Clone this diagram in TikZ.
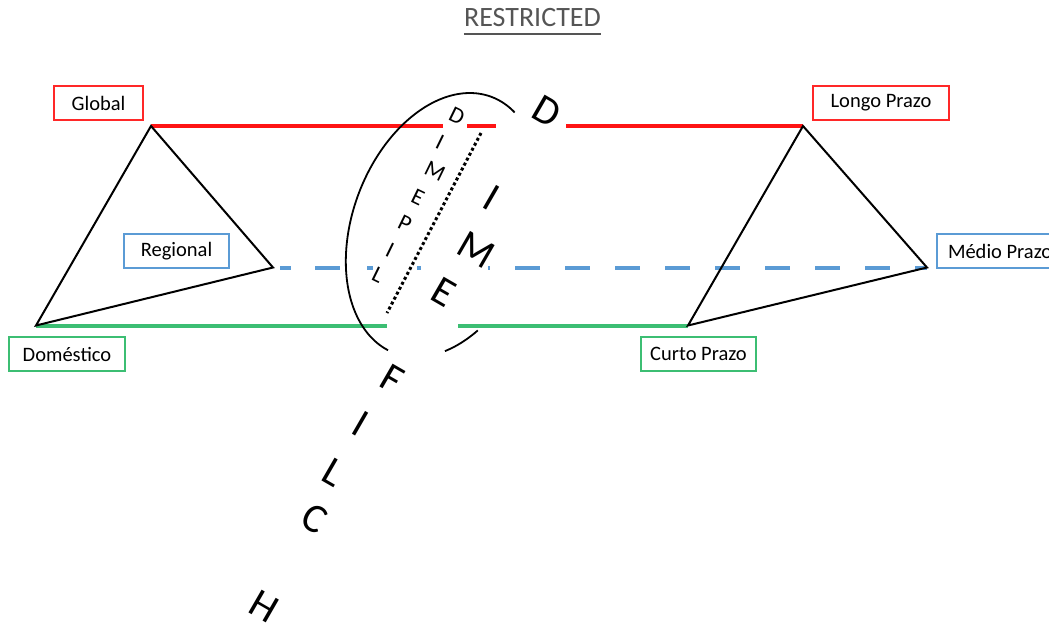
\documentclass[tikz,border=0pt]{standalone}
\usepackage{fontspec}
\setmainfont{Carlito}
\definecolor{myred}{RGB}{255,20,20}
\definecolor{boxred}{RGB}{255,40,40}
\definecolor{myblue}{RGB}{91,155,213}
\definecolor{mygreen}{RGB}{60,190,115}
\definecolor{titlegray}{RGB}{85,85,85}
\begin{document}
\begin{tikzpicture}[x=1pt,y=-1pt,
  lbl/.style={draw, line width=2pt, font=\fontsize{20.5}{24}\selectfont, minimum height=34pt, inner sep=0pt, anchor=center},
  tri/.style={draw=black, line width=2pt, line join=miter},
  axisline/.style={line width=4pt},
  bigletter/.style={font=\fontsize{41}{48}\selectfont, rotate=-30, inner sep=0pt},
  smallletter/.style={font=\fontsize{23}{26}\selectfont, rotate=-26, inner sep=0pt},
  ellipsepart/.style={line width=1.8pt},
  dotline/.style={line width=3pt, dash pattern=on 3pt off 2.6pt}]

\useasboundingbox (0,0) rectangle (1049,626);
\clip (0,0) rectangle (1049,626);

% title
\node[font=\fontsize{28}{32}\selectfont, text=titlegray, inner sep=0pt, anchor=base] (title) at (532.5,27) {RESTRICTED};
\coordinate (ulA) at ([yshift=-7pt]title.base west);
\coordinate (ulB) at ([yshift=-7pt]title.base east);
\draw[titlegray, line width=1.5pt] (ulA) -- (ulB);

% triangle vertices
\coordinate (G) at (151,126);
\coordinate (R) at (273,267.5);
\coordinate (Dm) at (36,325.5);
\coordinate (L) at (803,126);
\coordinate (M) at (927,267.5);
\coordinate (C) at (688,325.5);

% red line pieces
\coordinate (r1) at (443,126);
\coordinate (r2) at (467,126);
\coordinate (r3) at (496,126);
\coordinate (r4) at (566,126);
\draw[myred, axisline] (G) -- (r1);
\draw[myred, axisline] (r2) -- (r3);
\draw[myred, axisline] (r4) -- (L);

% green line pieces
\coordinate (g1) at (387,325.5);
\coordinate (g2) at (458,325.5);
\draw[mygreen, axisline] (Dm) -- (g1);
\draw[mygreen, axisline] (g2) -- (C);

% blue dashed pieces
\foreach \a/\b in {280/291, 315/340, 367/373, 417/421, 488/490}{
  \draw[myblue, axisline] (\a,267.5) -- (\b,267.5);
}
\coordinate (b1) at (515,267.5);
\draw[myblue, axisline, dash pattern=on 25pt off 25pt] (b1) -- (M);

% triangles
\draw[tri] (G) -- (R) -- (Dm) -- cycle;
\draw[tri] (L) -- (M) -- (C) -- cycle;

% ellipse (two visible arcs)
\draw[ellipsepart] plot[domain=-17.5:175.6, samples=120, variable=\t]
  ({443 + 137*cos(\t)*cos(69.2) - 90*sin(\t)*sin(69.2)},
   {225 - (137*cos(\t)*sin(69.2) + 90*sin(\t)*cos(69.2))});
\draw[ellipsepart] plot[domain=211.2:231, samples=30, variable=\t]
  ({443 + 137*cos(\t)*cos(69.2) - 90*sin(\t)*sin(69.2)},
   {225 - (137*cos(\t)*sin(69.2) + 90*sin(\t)*cos(69.2))});

% dotted line
\coordinate (dt1) at (481,133);
\coordinate (dt2) at (387,313);
\draw[dotline] (dt1) -- (dt2);

% small letters DIMEPIL
\node[smallletter] (s1) at (457,116) {D};
\node[smallletter] (s2) at (440,142) {I};
\node[smallletter] (s3) at (435,171) {M};
\node[smallletter] (s4) at (418,197) {E};
\node[smallletter] (s5) at (405,223) {P};
\node[smallletter] (s6) at (390,250) {I};
\node[smallletter] (s7) at (378,275) {L};

% big letters
\node[bigletter] (B1) at (547,111) {D};
\node[bigletter] (B2) at (492,198) {I};
\node[bigletter] (B3) at (476,250) {M};
\node[bigletter] (B4) at (444,292) {E};
\node[bigletter] (B5) at (392,379) {F};
\node[bigletter] (B6) at (361,424) {I};
\node[bigletter] (B7) at (334,472) {L};
\node[bigletter] (B8) at (315,519) {C};
\node[bigletter] (B9) at (264,606) {H};

% labels
\node[lbl, draw=boxred, minimum width=89pt] (global) at (98.5,103) {Global};
\node[lbl, draw=myblue, minimum width=105pt] (regional) at (176.5,251) {Regional};
\node[lbl, draw=mygreen, minimum width=116pt] (domestico) at (67,354) {Doméstico};
\node[lbl, draw=boxred, minimum width=136pt] (longo) at (881,103) {Longo Prazo};
\node[lbl, draw=myblue, anchor=west, inner xsep=11pt] (medio) at (936,251) {Médio Prazo};
\node[lbl, draw=mygreen, minimum width=115pt] (curto) at (698.5,354) {Curto Prazo};

\end{tikzpicture}
\end{document}
